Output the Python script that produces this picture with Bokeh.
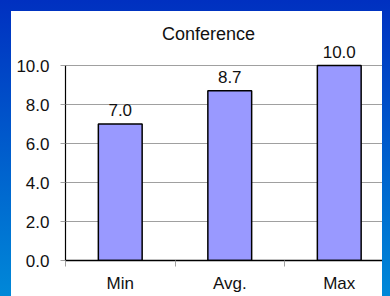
from bokeh.plotting import figure
from bokeh.models import (ColumnDataSource, Range1d, FixedTicker, LabelSet, Label,
                          NumeralTickFormatter, GlobalInlineStyleSheet)
from bokeh.core.properties import value
from bokeh.embed import file_html
from bokeh.resources import INLINE

# ---- data ----
categories = ["Min", "Avg.", "Max"]
values = [7.0, 8.7, 10.0]
value_labels = ["7.0", "8.7", "10.0"]
y_ticks = [0, 2, 4, 6, 8, 10]
title_text = "Conference"

xs = [i + 0.5 for i in range(len(categories))]
boundaries = list(range(len(categories) + 1))
src = ColumnDataSource(dict(x=xs, top=values, label=value_labels))

FONT = "Liberation Sans"
GRID = "#a0a0a0"
TXT = "#111111"

p = figure(width=379, height=285, output_backend="svg", toolbar_location=None,
           x_range=Range1d(0, 2.968), y_range=Range1d(0, 12.77),
           min_border_left=54, min_border_right=0, min_border_top=0,
           min_border_bottom=36)
p.margin = (3, 0, 0, 3)
p.styles = {"background-color": "white"}
p.outline_line_color = None
p.background_fill_color = "white"
p.border_fill_color = "white"

p.add_layout(Label(x=1.306, y=11.64, text=title_text, text_align="center",
                   text_baseline="middle", text_font=FONT, text_font_size="18px",
                   text_color=TXT))

p.vbar(x="x", top="top", width=0.4, source=src, fill_color="#9999FF",
       line_color="black", line_width=1.5)

p.add_layout(LabelSet(x="x", y="top", text="label", source=src,
                      text_align="center", text_baseline="bottom", y_offset=8,
                      text_font=value(FONT), text_font_size=value("17px"),
                      text_color=value(TXT)))

# y axis
p.yaxis.ticker = FixedTicker(ticks=y_ticks)
p.yaxis.bounds = (0, 10)
p.yaxis.formatter = NumeralTickFormatter(format="0.0")
p.yaxis.axis_line_color = "black"
p.yaxis.axis_line_width = 1.2
p.yaxis.major_tick_line_color = GRID
p.yaxis.major_tick_out = 5
p.yaxis.major_tick_in = 0
p.yaxis.minor_tick_line_color = None
p.yaxis.major_label_standoff = 11
p.yaxis.major_label_text_font = FONT
p.yaxis.major_label_text_font_size = "17px"
p.yaxis.major_label_text_color = TXT

# x axis
p.xaxis.ticker = FixedTicker(ticks=xs, minor_ticks=boundaries)
p.xaxis.major_label_overrides = {x: c for x, c in zip(xs, categories)}
p.xaxis.axis_line_color = "black"
p.xaxis.axis_line_width = 1.5
p.xaxis.major_tick_line_color = None
p.xaxis.major_tick_out = 0
p.xaxis.major_tick_in = 0
p.xaxis.minor_tick_line_color = GRID
p.xaxis.minor_tick_out = 6
p.xaxis.minor_tick_in = 0
p.xaxis.major_label_standoff = 7
p.xaxis.major_label_text_font = FONT
p.xaxis.major_label_text_font_size = "17px"
p.xaxis.major_label_text_color = TXT

p.xgrid.visible = False
p.ygrid.ticker = FixedTicker(ticks=y_ticks)
p.ygrid.grid_line_color = GRID
p.ygrid.grid_line_width = 1

css = ("html{background:linear-gradient(to bottom,#0030c0,#0088d8);"
       "min-height:100%;overflow:hidden}"
       "body{margin:8px;overflow:hidden;background:transparent}")
p.stylesheets = [GlobalInlineStyleSheet(css=css)]

open("out.html", "w").write(file_html(p, INLINE))
